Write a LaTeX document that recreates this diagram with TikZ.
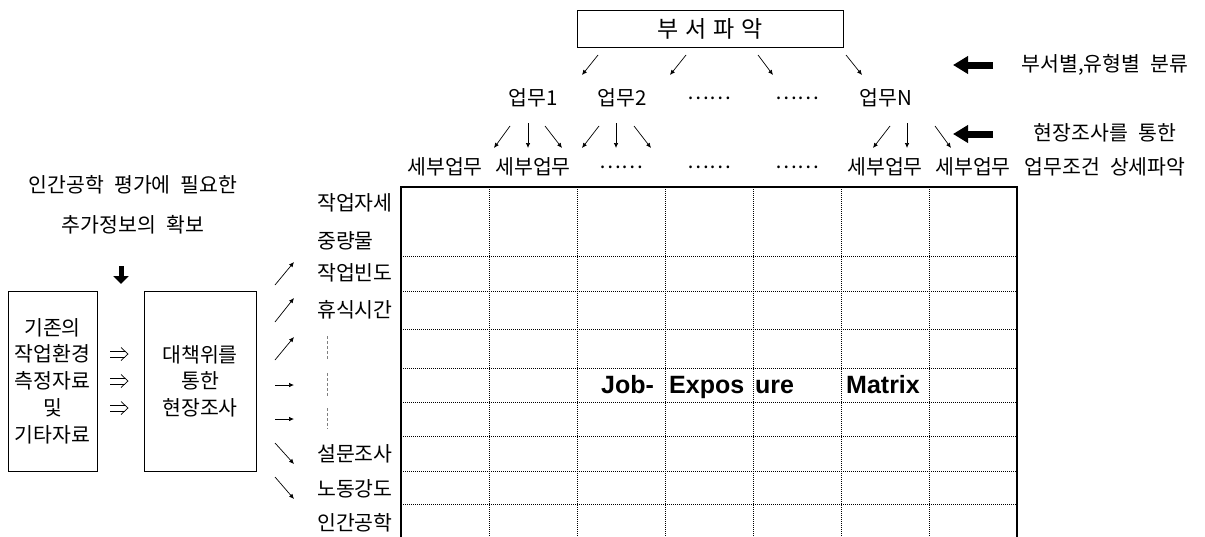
\documentclass[tikz,border=0pt]{standalone}
\usepackage{fontspec}
\setmainfont{Noto Sans CJK KR}
\newfontfamily\jemfont{Liberation Sans}
\usetikzlibrary{arrows.meta}
\newcommand\ks{\hspace{0.5em}}
\begin{document}
\begin{tikzpicture}[x=1pt,y=-1pt,
  txt/.style={inner sep=0pt, font=\fontsize{20.5}{24}\selectfont},
  lbl/.style={txt, anchor=west},
  boxn/.style={draw, line width=0.9pt, inner sep=0pt},
  sarr/.style={line width=0.7pt, -{Latex[length=5pt,width=4.5pt]}},
  barr/.style={line width=7pt, -{Triangle[length=15pt,width=17pt]}},
  darr/.style={line width=5pt, -{Triangle[length=8pt,width=15pt]}},
  dblw/.style={line width=0.7pt},
  gridl/.style={line width=0.8pt, dash pattern=on 0.9pt off 1.1pt},
  dashv/.style={line width=0.6pt, gray, dash pattern=on 3pt off 2pt},
  jem/.style={inner sep=0pt, anchor=base west, font=\jemfont\bfseries\fontsize{25}{29}\selectfont}
]
\useasboundingbox (0,0) rectangle (1205,536);

% ---- top box and first level
\node[boxn, minimum width=266pt, minimum height=37pt, font=\fontsize{23}{26}\selectfont] (top) at (710,28.5)
  {부\hspace{7pt}서\hspace{7pt}파\hspace{7pt}악};
\node[txt] (w1) at (533,98) {업무1};
\node[txt] (w2) at (622,98) {업무2};
\node[txt] (w3) at (709,98) {……};
\node[txt] (w4) at (797,98) {……};
\node[txt] (wN) at (886,98) {업무N};

\foreach \n/\xa/\ya/\xb/\yb in {t1/598/55/582/75, t2/686/55/670/75, t3/758/55/773/75, t4/846/55/862/75,
   s1/510/126/494/148, s2/528/123/528/148, s3/545/126/562/148,
   s4/599/126/582/148, s5/616/123/616/148, s6/634/126/651/148,
   s7/890/126/873/148, s8/907/123/907/148, s9/935/126/951/148,
   l1/275/285/294/262, l2/275/322/294/298, l3/275/360/294/337,
   l4/275/385/294/385, l5/275/419/294/419, l6/275/443/294/464, l7/275/477/294/499}
 { \coordinate (\n a) at (\xa,\ya); \coordinate (\n b) at (\xb,\yb); \draw[sarr] (\n a) -- (\n b); }

% ---- column headers
\node[txt] (h1) at (445,167) {세부업무};
\node[txt] (h2) at (533,167) {세부업무};
\node[txt] (h3) at (621,167) {……};
\node[txt] (h4) at (709,167) {……};
\node[txt] (h5) at (797,167) {……};
\node[txt] (h6) at (885,167) {세부업무};
\node[txt] (h7) at (973,167) {세부업무};

% ---- right side notes
\node[txt] (n1) at (1105,65) {부서별,유형별\ks 분류};
\node[txt] (n2) at (1105,133) {현장조사를\ks 통한};
\node[txt] (n3) at (1105,167) {업무조건\ks 상세파악};
\coordinate (k1a) at (993,65);  \coordinate (k1b) at (953,65);
\coordinate (k2a) at (993,134); \coordinate (k2b) at (953,134);
\draw[barr] (k1a) -- (k1b);
\draw[barr] (k2a) -- (k2b);

% ---- left side
\node[txt] (q1) at (133,185) {인간공학\ks 평가에\ks 필요한};
\node[txt] (q2) at (133,225) {추가정보의\ks 확보};
\coordinate (da) at (121,266); \coordinate (db) at (121,284);
\draw[darr] (da) -- (db);

\node[boxn, minimum width=89pt, minimum height=180pt, align=center,
      font=\fontsize{20.5}{26.8}\selectfont] (b1) at (52.5,381)
  {기존의\\작업환경\\측정자료\\및\\기타자료};
\node[boxn, minimum width=112pt, minimum height=180pt, align=center,
      font=\fontsize{20.5}{26.6}\selectfont] (b2) at (200,381)
  {대책위를\\통한\\현장조사};
% double arrows between the boxes
\foreach \i/\y in {1/354,2/381,3/408} {
  \coordinate (g\i) at (119,\y);
  \draw[dblw] ([shift={(-9,-3)}]g\i) -- ([shift={(6,-3)}]g\i);
  \draw[dblw] ([shift={(-9,3)}]g\i) -- ([shift={(6,3)}]g\i);
  \draw[dblw, line join=miter] ([shift={(2,-6.5)}]g\i) -- ([shift={(9,0)}]g\i) -- ([shift={(2,6.5)}]g\i);
}

% ---- row labels
\node[lbl] (r1) at (317,203) {작업자세};
\node[lbl] (r2) at (317,241) {중량물};
\node[lbl] (r3) at (317,273) {작업빈도};
\node[lbl] (r4) at (317,310) {휴식시간};
\node[lbl] (r8) at (317,454) {설문조사};
\node[lbl] (r9) at (317,489) {노동강도};
\node[lbl] (r10) at (317,523) {인간공학};
\draw[dashv] (327,336) -- (327,359);
\draw[dashv] (327,373) -- (327,396);
\draw[dashv] (327,408) -- (327,429);

% ---- matrix grid
\foreach \x in {489,577,665,753,841,929} \draw[gridl] (\x,187) -- (\x,536);
\foreach \y in {256,291,329,368,402,436,471,504} \draw[gridl] (401,\y) -- (1017,\y);
\draw[line width=2.6pt] (401,537) -- (401,187) -- (1017,187) -- (1017,537);

\node[jem] (j1) at (601,393) {Job-};
\node[jem] (j2) at (669,393) {Expos};
\node[jem] (j3) at (755,393) {ure};
\node[jem] (j4) at (846,393) {Matrix};
\end{tikzpicture}
\end{document}
